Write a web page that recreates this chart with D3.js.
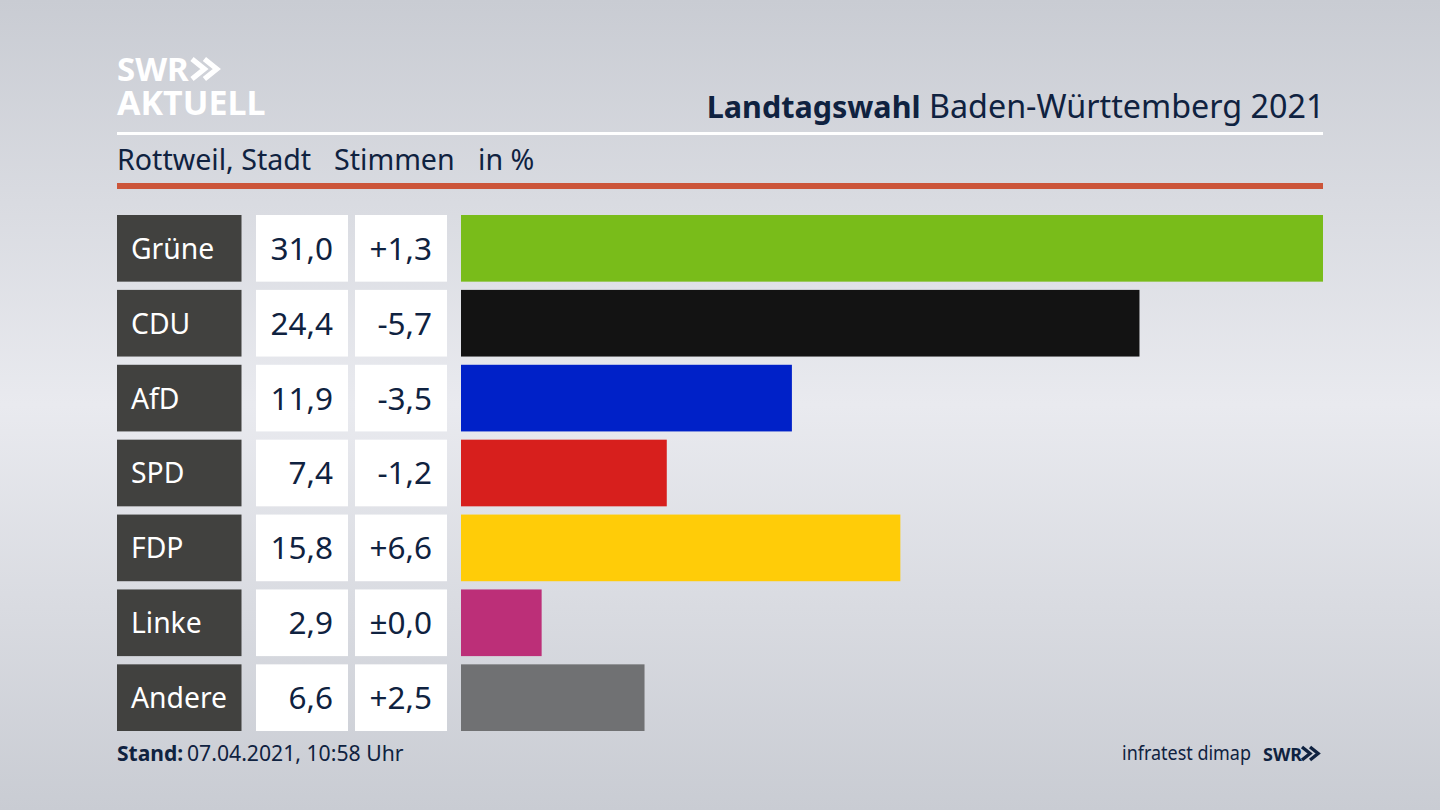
<!DOCTYPE html>
<html lang="de">
  <head>
    <meta charset="utf-8">
    <title>Landtagswahl Baden-Württemberg 2021</title>
    <script src="https://cdnjs.cloudflare.com/ajax/libs/d3/7.8.5/d3.min.js"></script>
    <style type="text/css">
      html, body { margin: 0; padding: 0; overflow: hidden; }
      svg { display: block; }
      text { font-family: "Noto Sans", sans-serif; }
    </style>
  </head>
  <body>
    <script type="text/javascript">
    // data
    var parties = ["Grüne", "CDU", "AfD", "SPD", "FDP", "Linke", "Andere"];
    var shares = [31.0, 24.4, 11.9, 7.4, 15.8, 2.9, 6.6];
    var changes = ["+1,3", "-5,7", "-3,5", "-1,2", "+6,6", "±0,0", "+2,5"];
    var barColors = ["#79bc1a", "#131313", "#0021c8", "#d71f1d", "#ffcc08", "#bc2f78", "#707173"];

    var w = 1440;
    var h = 810;
    var navy = "#0f2240";
    var left = 117;
    var right = 1323;

    var fmt = function(v) { return v.toFixed(1).replace(".", ","); };

    var svg = d3.select("body")
                .append("svg")
                .attr("width", w)
                .attr("height", h);

    // background
    var grad = svg.append("defs").append("linearGradient")
       .attr("id", "bg")
       .attr("x1", 0).attr("y1", 0).attr("x2", 0).attr("y2", 1);
    grad.append("stop").attr("offset", "0%").attr("stop-color", "#c9ccd3");
    grad.append("stop").attr("offset", "50%").attr("stop-color", "#e9eaef");
    grad.append("stop").attr("offset", "100%").attr("stop-color", "#c9ccd3");
    svg.append("rect").attr("width", w).attr("height", h).attr("fill", "url(#bg)");

    // scales
    var y = d3.scaleBand().domain(parties).range([215, 731]).paddingInner(0.11);
    var x = d3.scaleLinear().domain([0, 31]).range([461, right]);

    // header
    function chevrons(px, py, size, color) {
      [0, 0.62].forEach(function(k) {
        var ox = px + k * size;
        svg.append("path")
           .attr("d", "M" + ox + "," + py + "l" + size * 0.62 + "," + size / 2 + "l" + (-size * 0.62) + "," + size / 2)
           .attr("fill", "none")
           .attr("stroke", color)
           .attr("stroke-width", size * 0.26);
      });
    }

    svg.append("text").attr("x", left).attr("y", 81)
       .attr("font-size", 33).attr("font-weight", 700).attr("fill", "#fff")
       .text("SWR");
    chevrons(192, 59, 20, "#fff");
    svg.append("text").attr("x", left).attr("y", 115)
       .attr("font-size", 34).attr("font-weight", 700).attr("fill", "#fff")
       .text("AKTUELL");

    var title = svg.append("text").attr("x", right + 1.5).attr("y", 118)
       .attr("text-anchor", "end").attr("fill", navy);
    title.append("tspan").attr("font-weight", 700).attr("font-size", 30.5).text("Landtagswahl");
    title.append("tspan").attr("font-size", 32.3).text(" Baden-Württemberg 2021");

    svg.append("rect").attr("x", left).attr("y", 132).attr("width", right - left).attr("height", 3).attr("fill", "#fff");

    svg.selectAll("text.sub")
       .data([["Rottweil, Stadt", 117], ["Stimmen", 334], ["in %", 478]])
       .enter()
       .append("text")
       .attr("class", "sub")
       .attr("x", function(d) { return d[1]; })
       .attr("y", 170)
       .attr("font-size", 28.6)
       .attr("fill", navy)
       .text(function(d) { return d[0]; });

    svg.append("rect").attr("x", left).attr("y", 183).attr("width", right - left).attr("height", 6).attr("fill", "#cc553a");

    // rows
    var rows = svg.selectAll("g.row")
       .data(parties)
       .enter()
       .append("g")
       .attr("class", "row")
       .attr("transform", function(d) { return "translate(0," + y(d) + ")"; });
    var bh = y.bandwidth();

    rows.append("rect").attr("x", left).attr("width", 124.5).attr("height", bh).attr("fill", "#41413f");
    rows.append("rect").attr("x", 256).attr("width", 92).attr("height", bh).attr("fill", "#fff");
    rows.append("rect").attr("x", 355).attr("width", 92).attr("height", bh).attr("fill", "#fff");
    rows.append("rect")
       .attr("x", x(0))
       .attr("width", function(d, i) { return x(shares[i]) - x(0); })
       .attr("height", bh)
       .attr("fill", function(d, i) { return barColors[i]; });

    rows.append("text").attr("x", 131).attr("y", bh / 2 + 10.5)
       .attr("font-size", 28.3).attr("fill", "#fff")
       .text(function(d) { return d; });
    rows.append("text").attr("x", 333).attr("y", bh / 2 + 11.5)
       .attr("text-anchor", "end").attr("font-size", 31.5).attr("fill", navy)
       .text(function(d, i) { return fmt(shares[i]); });
    rows.append("text").attr("x", 432).attr("y", bh / 2 + 11.5)
       .attr("text-anchor", "end").attr("font-size", 31.5).attr("fill", navy)
       .text(function(d, i) { return changes[i]; });

    // footer
    var stand = svg.append("text").attr("x", left).attr("y", 761).attr("font-size", 21).attr("fill", navy);
    stand.append("tspan").attr("font-weight", 700).text("Stand:");
    stand.append("tspan").attr("x", 187).attr("font-size", 21.2).text("07.04.2021, 10:58 Uhr");

    svg.append("text").attr("x", 1122).attr("y", 760)
       .attr("font-size", 20).attr("fill", navy)
       .attr("textLength", 129).attr("lengthAdjust", "spacingAndGlyphs")
       .text("infratest dimap");
    svg.append("text").attr("x", 1263).attr("y", 761)
       .attr("font-size", 18).attr("font-weight", 700).attr("fill", navy).text("SWR");
    chevrons(1302, 747, 13, navy);
    </script>
  </body>
</html>
